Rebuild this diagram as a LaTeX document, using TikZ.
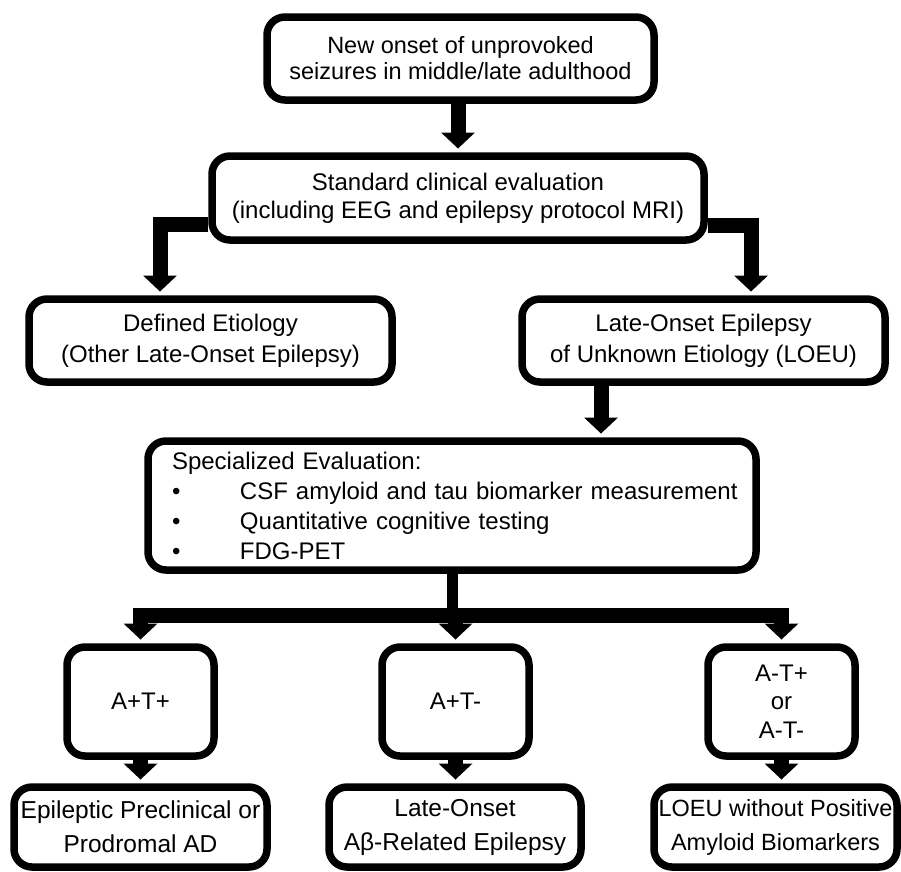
\documentclass[tikz,border=0pt]{standalone}
\usepackage{fontspec}
\setmainfont{Liberation Sans}
\usetikzlibrary{arrows.meta,calc}
\tikzset{
  box/.style={draw=black, line width=7.5pt, rounded corners=18pt, inner sep=0pt, align=center, font=\fontsize{24}{28}\selectfont},
  bigarrow/.style={line width=15pt, line join=miter, -{Triangle[width=34pt,length=16pt,line width=0pt]}, shorten >=3.75pt},
  stub/.style={line width=11pt}
}
\newcommand{\bulletitem}[1]{\mbox{\makebox[68pt][l]{\textbullet}#1}}
\begin{document}
\begin{tikzpicture}[x=1pt,y=-1pt]
\useasboundingbox (0,0) rectangle (901,871);
\node[box, minimum width=387pt, minimum height=83pt, font=\fontsize{23.5}{26}\selectfont] (b1) at (460.5,58.5) {New onset of unprovoked\\seizures in middle/late adulthood};
\node[box, minimum width=492pt, minimum height=84pt] (b2) at (458,198) {Standard clinical evaluation\\(including EEG and epilepsy protocol MRI)};
\node[box, minimum width=363pt, minimum height=83pt, font=\fontsize{24}{31}\selectfont] (b3) at (210.5,340.5) {Defined Etiology\\(Other Late-Onset Epilepsy)};
\node[box, minimum width=363pt, minimum height=83pt, font=\fontsize{24}{31}\selectfont] (b4) at (703.5,340.5) {Late-Onset Epilepsy\\of Unknown Etiology (LOEU)};
\node[box, minimum width=608pt, minimum height=129pt, inner xsep=24pt, text width=560pt, align=left, font=\fontsize{24}{30}\selectfont] (spec) at (452,505.5) {\mbox{Specialized Evaluation:}\\\bulletitem{CSF amyloid and tau biomarker measurement}\\\bulletitem{Quantitative cognitive testing}\\\bulletitem{FDG-PET}};
\node[box, minimum width=147pt, minimum height=109pt] (atp) at (140.5,701.5) {A+T+};
\node[box, minimum width=147pt, minimum height=109pt] (atn) at (455.5,701.5) {A+T-};
\node[box, minimum width=147pt, minimum height=109pt, font=\fontsize{24}{28.5}\selectfont] (atm) at (781.5,701.5) {A-T+\\or\\A-T-};
\node[box, minimum width=253pt, minimum height=80pt, font=\fontsize{24.5}{34}\selectfont] (epi) at (140.5,827) {Epileptic Preclinical or\\Prodromal AD};
\node[box, minimum width=252pt, minimum height=80pt, font=\fontsize{24.5}{34}\selectfont] (abeta) at (455,827) {Late-Onset\\Aβ-Related Epilepsy};
\node[box, minimum width=243pt, minimum height=80pt, font=\fontsize{23.5}{34}\selectfont] (loeu) at (775.5,827) {LOEU without Positive\\Amyloid Biomarkers};
% connectors
\draw[bigarrow] (b2.north |- b1.south) -- (b2.north);
\draw[bigarrow] ([yshift=-26pt]b2.west) -| ([xshift=-50.5pt]b3.north);
\draw[bigarrow] ([yshift=-27pt]b2.east) -| ([xshift=47.5pt]b4.north);
\coordinate (lo) at ([xshift=-102.5pt]b4.south);
\draw[bigarrow] (lo) -- (lo |- spec.north);
\coordinate (bus) at ($(spec.south)+(0,42)$);
\draw[stub] (spec.south) -- (bus);
\draw[bigarrow] (bus) -| (atp.north);
\draw[bigarrow] (bus) -| (atm.north);
\draw[bigarrow] (bus -| atn.north) -- (atn.north);
\draw[bigarrow] (atp.south) -- (epi.north);
\draw[bigarrow] (atn.south) -- (atn.south |- abeta.north);
\draw[bigarrow] (atm.south) -- (atm.south |- loeu.north);
\end{tikzpicture}
\end{document}
